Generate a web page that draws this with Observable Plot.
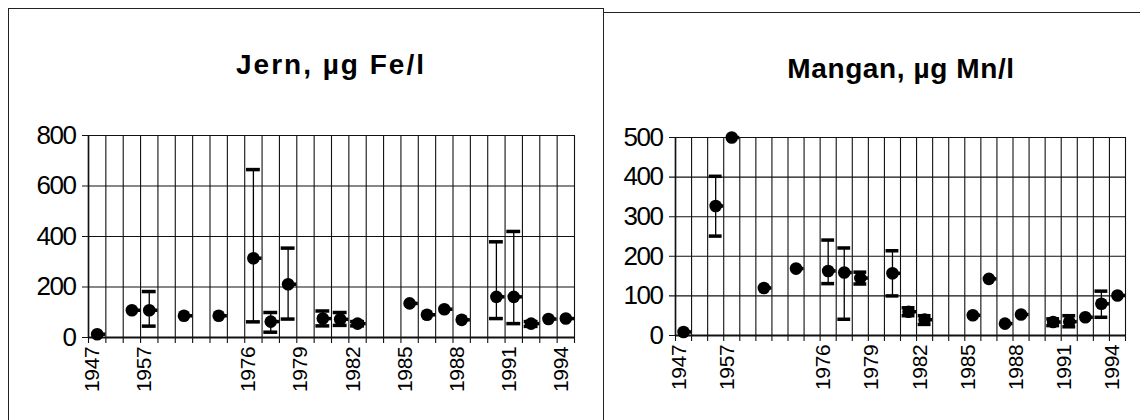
<!DOCTYPE html>
<html>
<head>
<meta charset="utf-8">
<script src="https://cdn.jsdelivr.net/npm/d3@7"></script>
<script src="https://cdn.jsdelivr.net/npm/@observablehq/plot@0.6"></script>
<style>
  html, body { margin: 0; padding: 0; background: #fff; }
  body { width: 1140px; height: 420px; position: relative; overflow: hidden; font-family: "Liberation Sans", Arial, sans-serif; }
  .box { position: absolute; border: 1.5px solid #222; box-sizing: border-box; }
  .title { position: absolute; font-weight: bold; font-size: 28px; line-height: 28px; color: #000; white-space: nowrap; transform: translateX(-50%); }
  .chart { position: absolute; top: 0; }
</style>
</head>
<body>
<div class="box" style="left:8px; top:8px; width:596px; height:430px;"></div>
<div class="box" style="left:603px; top:12px; width:560px; height:430px;"></div>
<div class="title" style="left:331px; top:51px; letter-spacing:2px;">Jern, µg Fe/l</div>
<div class="title" style="left:901px; top:55px; letter-spacing:0.6px;">Mangan, µg Mn/l</div>
<div id="left" class="chart" style="left:0px;"></div>
<div id="right" class="chart" style="left:603px;"></div>
<script>
// Categories (28 positions on the category axis); only every 3rd is labelled
const categories = ["1947","","","1957","","","","","","1976","1977","1978","1979","1980","1981","1982","1983","1984","1985","1986","1987","1988","1989","1990","1991","1992","1993","1994"];

// Jern, µg Fe/l
const jernValue = [13,null,108,108,null,86,null,86,null,314,63,211,null,75,72,55,null,null,135,90,112,70,null,161,161,55,73,75];
const jernLow   = [null,null,null,45,null,null,null,null,null,62,21,73,null,46,48,46,null,null,null,null,null,null,null,75,55,44,null,null];
const jernHigh  = [null,null,null,182,null,null,null,null,null,665,99,354,null,105,99,63,null,null,null,null,null,null,null,379,420,63,null,null];

// Mangan, µg Mn/l
const manganValue = [9,null,327,500,null,120,null,169,null,163,159,145,null,157,60,40,null,null,51,143,30,53,null,34,35,46,80,101];
const manganLow   = [null,null,251,null,null,null,null,null,null,131,41,130,null,100,50,28,null,null,null,null,null,null,null,25,22,null,46,null];
const manganHigh  = [null,null,402,null,null,null,null,null,null,241,221,160,null,214,70,50,null,null,null,null,null,null,null,42,50,null,112,null];

const jernTicks = [0,200,400,600,800];
const manganTicks = [0,100,200,300,400,500];

function panel(values, lows, highs, yTicks, cfg) {
  const rows = categories.map((c, i) => ({i, v: values[i], lo: lows[i], hi: highs[i]}));
  const pts = rows.filter(d => d.v != null);
  const bars = rows.filter(d => d.lo != null && d.hi != null);
  const labelIdx = d3.range(0, categories.length, 3);
  const n = categories.length;
  const svg = Plot.plot({
    width: cfg.width,
    height: 420,
    marginLeft: cfg.ml, marginRight: cfg.mr, marginTop: cfg.mt, marginBottom: cfg.mb,
    style: {fontFamily: "'Liberation Sans', Arial, sans-serif", background: "transparent", overflow: "visible"},
    x: {domain: [0, n], axis: null},
    y: {domain: [0, yTicks[yTicks.length - 1]], axis: null},
    marks: [
      Plot.ruleY(yTicks, {stroke: "#111", strokeWidth: 1.1, insetLeft: -6}),
      Plot.ruleX(d3.range(n + 1), {stroke: "#111", strokeWidth: 1.1, insetBottom: -6}),
      Plot.ruleY([0], {stroke: "#111", strokeWidth: 1.8}),
      Plot.ruleX([0], {stroke: "#111", strokeWidth: 1.6}),
      Plot.text(yTicks, {y: d => d, frameAnchor: "left", dx: -13, textAnchor: "end", text: d => String(d), fontSize: cfg.yFont, fill: "#000"}),
      Plot.text(labelIdx, {x: i => i + 0.5, frameAnchor: "bottom", dx: 2, dy: 9, rotate: -90, textAnchor: "end", text: i => categories[i], fontSize: cfg.xFont, fill: "#000"}),
      Plot.ruleX(bars, {x: d => d.i + 0.5, y1: "lo", y2: "hi", stroke: "#000", strokeWidth: 1.3}),
      Plot.ruleY(bars, {y: "lo", x1: d => d.i + 0.1, x2: d => d.i + 0.9, stroke: "#000", strokeWidth: 3.5}),
      Plot.ruleY(bars, {y: "hi", x1: d => d.i + 0.1, x2: d => d.i + 0.9, stroke: "#000", strokeWidth: 3.5}),
      Plot.ruleY(pts, {y: "v", x1: d => d.i + 0.5, x2: d => d.i + 1, stroke: "#000", strokeWidth: 3.5}),
      Plot.dot(pts, {x: d => d.i + 0.5, y: "v", r: 6.3, fill: "#000", stroke: "none"})
    ]
  });
  const groups = d3.select(svg).selectAll('g[aria-label="text"]').nodes();
  if (groups[0]) groups[0].style.letterSpacing = "-1.5px";
  if (groups[1]) groups[1].style.letterSpacing = "-0.3px";
  return svg;
}

const left = panel(jernValue, jernLow, jernHigh, jernTicks,
  {width: 603, ml: 88, mr: 29, mt: 135, mb: 83, yFont: 26, xFont: 21});
const right = panel(manganValue, manganLow, manganHigh, manganTicks,
  {width: 537, ml: 72, mr: 15, mt: 137, mb: 85, yFont: 26, xFont: 21});
document.getElementById("left").appendChild(left);
document.getElementById("right").appendChild(right);
</script>
</body>
</html>
